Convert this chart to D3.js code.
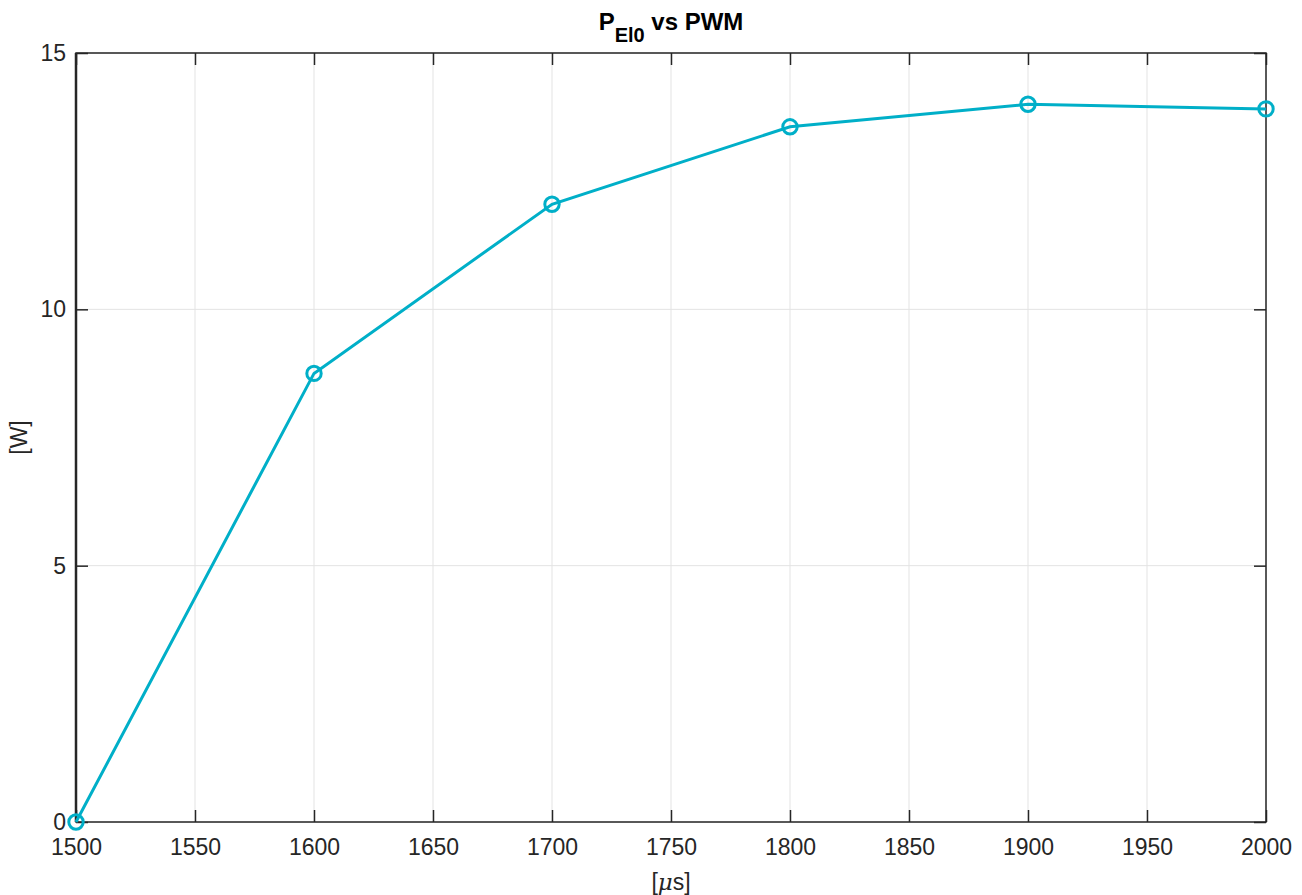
<!DOCTYPE html>
<html>
<head>
<meta charset="utf-8">
<script src="https://d3js.org/d3.v7.min.js"></script>
<style>
  body { margin: 0; background: #fff; }
  text { font-family: "Liberation Sans", Arial, sans-serif; }
</style>
</head>
<body>
<div id="chart"></div>
<script>
// Data
const pwm = [1500, 1600, 1700, 1800, 1900, 2000];
const power = [0, 8.75, 12.05, 13.56, 14.0, 13.91];
const xTicks = [1500, 1550, 1600, 1650, 1700, 1750, 1800, 1850, 1900, 1950, 2000];
const yTicks = [0, 5, 10, 15];

const W = 1302, H = 895;
const M = { t: 53, r: 36, b: 73, l: 76 };
const LINE_COLOR = '#00afc8';
const AXIS_COLOR = '#262626';
const FS = 23;

const svg = d3.select('#chart').append('svg')
  .attr('width', W).attr('height', H);

const x = d3.scaleLinear().domain([1500, 2000]).range([M.l, W - M.r]);
const y = d3.scaleLinear().domain([0, 15]).range([H - M.b, M.t]);

// Grid
const grid = svg.append('g');
grid.selectAll('line.gx').data(xTicks).enter().append('line')
  .attr('x1', d => x(d)).attr('x2', d => x(d))
  .attr('y1', y(0)).attr('y2', y(15))
  .attr('stroke', '#e3e3e3').attr('stroke-width', 1);
grid.selectAll('line.gy').data(yTicks).enter().append('line')
  .attr('x1', x(1500)).attr('x2', x(2000))
  .attr('y1', d => y(d)).attr('y2', d => y(d))
  .attr('stroke', '#e3e3e3').attr('stroke-width', 1);

// Axes (ticks pointing inwards, box style)
const tickLen = 12;
const styleAxis = g => {
  g.select('.domain').remove();
  g.selectAll('.tick line').attr('stroke', AXIS_COLOR).attr('stroke-width', 1.5);
  g.selectAll('.tick text').attr('fill', AXIS_COLOR).attr('font-size', FS);
};

svg.append('g').attr('transform', `translate(0,${y(0)})`)
  .call(d3.axisBottom(x).tickValues(xTicks).tickSize(-tickLen).tickPadding(17).tickFormat(d3.format('d')))
  .call(styleAxis);
svg.append('g').attr('transform', `translate(0,${y(15)})`)
  .call(d3.axisTop(x).tickValues(xTicks).tickSize(-tickLen).tickFormat(''))
  .call(styleAxis);
svg.append('g').attr('transform', `translate(${x(1500)},0)`)
  .call(d3.axisLeft(y).tickValues(yTicks).tickSize(-tickLen).tickPadding(10))
  .call(styleAxis);
svg.append('g').attr('transform', `translate(${x(2000)},0)`)
  .call(d3.axisRight(y).tickValues(yTicks).tickSize(-tickLen).tickFormat(''))
  .call(styleAxis);

// Box
svg.append('rect')
  .attr('x', x(1500)).attr('y', y(15))
  .attr('width', x(2000) - x(1500)).attr('height', y(0) - y(15))
  .attr('fill', 'none').attr('stroke', AXIS_COLOR).attr('stroke-width', 1.5);
// heavier left edge as in the reference
svg.append('line')
  .attr('x1', x(1500)).attr('x2', x(1500))
  .attr('y1', y(0)).attr('y2', y(15))
  .attr('stroke', AXIS_COLOR).attr('stroke-width', 2.5);

// Series line + circle markers
const pts = pwm.map((p, i) => ({ x: p, y: power[i] }));
svg.append('path').datum(pts)
  .attr('d', d3.line().x(d => x(d.x)).y(d => y(d.y)))
  .attr('fill', 'none').attr('stroke', LINE_COLOR).attr('stroke-width', 3);
svg.selectAll('circle.m').data(pts).enter().append('circle')
  .attr('cx', d => x(d.x)).attr('cy', d => y(d.y)).attr('r', 7.2)
  .attr('fill', 'none').attr('stroke', LINE_COLOR).attr('stroke-width', 3);

// Title with subscript
const title = svg.append('text')
  .attr('x', (x(1500) + x(2000)) / 2).attr('y', 30)
  .attr('text-anchor', 'middle').attr('font-weight', 'bold')
  .attr('font-size', 24).attr('fill', '#000');
title.append('tspan').text('P');
title.append('tspan').attr('dy', 12).attr('font-size', 20).text('El0');
title.append('tspan').attr('dy', -12).text(' vs PWM');

// Axis labels
const xl = svg.append('text')
  .attr('x', (x(1500) + x(2000)) / 2).attr('y', 890)
  .attr('text-anchor', 'middle').attr('font-size', FS).attr('fill', AXIS_COLOR);
xl.append('tspan').text('[');
xl.append('tspan').attr('font-style', 'italic').attr('font-family', 'DejaVu Serif, serif').text('μ');
xl.append('tspan').text('s]');

svg.append('text')
  .attr('transform', `translate(27,${(y(0) + y(15)) / 2}) rotate(-90)`)
  .attr('text-anchor', 'middle').attr('font-size', FS).attr('fill', AXIS_COLOR)
  .text('[W]');
</script>
</body>
</html>
